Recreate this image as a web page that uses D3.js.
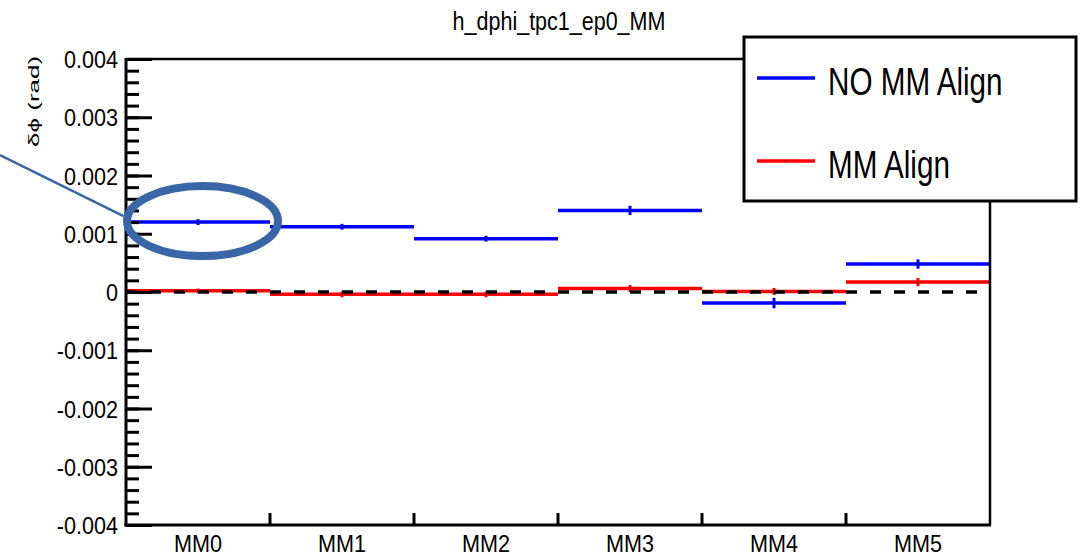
<!DOCTYPE html>
<html>
<head>
<meta charset="utf-8">
<script src="https://cdn.jsdelivr.net/npm/d3@7"></script>
<style>
  body { margin: 0; background: #fff; }
  svg { display: block; }
  text { font-family: "Liberation Sans", Arial, Helvetica, sans-serif; fill: #000; }
</style>
</head>
<body>
<svg id="chart" width="1083" height="558"></svg>
<script>
// Micromegas modules along the x axis
const modules = ["MM0", "MM1", "MM2", "MM3", "MM4", "MM5"];

// Mean delta-phi per module (rad), before alignment
const noAlign    = [0.00120, 0.00112, 0.000915, 0.00140, -0.00019, 0.00048];
const noAlignErr = [0.00005, 0.00005, 0.00005, 0.00008, 0.00009, 0.00008];

// Mean delta-phi per module (rad), after alignment
const mmAlign    = [0.00002, -0.00004, -0.00004, 0.00006, 0.00001, 0.00017];
const mmAlignErr = [0.00004, 0.00005, 0.00005, 0.00006, 0.00006, 0.00007];

// Axis ticks
const yMajorTicks = [-0.004, -0.003, -0.002, -0.001, 0, 0.001, 0.002, 0.003, 0.004];
const yMinorTicks = d3.range(-20, 21).map(i => i / 5000);
const yTickLabels = ["-0.004", "-0.003", "-0.002", "-0.001", "0", "0.001", "0.002", "0.003", "0.004"];

const series = [
  { name: "NO MM Align", values: noAlign, errors: noAlignErr, color: "#0000ff" },
  { name: "MM Align",    values: mmAlign, errors: mmAlignErr, color: "#ff0000" }
];

const svg = d3.select("#chart");
const frame = { left: 126, right: 990, top: 59, bottom: 525 };

const x = d3.scaleBand().domain(modules).range([frame.left, frame.right]).padding(0);
const y = d3.scaleLinear().domain([-0.004, 0.004]).range([frame.bottom, frame.top]);

// Squeeze text horizontally to get the narrow Helvetica look
function condense(sel, f) {
  sel.each(function () {
    const w = this.getComputedTextLength();
    this.setAttribute("textLength", w * f);
    this.setAttribute("lengthAdjust", "spacingAndGlyphs");
  });
}

// Histogram bins: horizontal bin-width bars with vertical error bars
series.forEach(s => {
  const g = svg.append("g");
  g.selectAll("line.bin").data(modules).join("line")
    .attr("class", "bin")
    .attr("x1", d => x(d)).attr("x2", d => x(d) + x.bandwidth())
    .attr("y1", (d, i) => y(s.values[i])).attr("y2", (d, i) => y(s.values[i]))
    .attr("stroke", s.color).attr("stroke-width", 3.5);
  g.selectAll("line.err").data(modules).join("line")
    .attr("class", "err")
    .attr("x1", d => x(d) + x.bandwidth() / 2).attr("x2", d => x(d) + x.bandwidth() / 2)
    .attr("y1", (d, i) => y(s.values[i] + s.errors[i]))
    .attr("y2", (d, i) => y(s.values[i] - s.errors[i]))
    .attr("stroke", s.color).attr("stroke-width", 3);
  g.selectAll("rect.mk").data(modules).join("rect")
    .attr("class", "mk")
    .attr("x", d => x(d) + x.bandwidth() / 2 - 0.5)
    .attr("y", (d, i) => y(s.values[i]) - 0.5)
    .attr("width", 1).attr("height", 1).attr("fill", "#000");
});

// Zero reference line
svg.append("line")
  .attr("x1", frame.left).attr("x2", frame.right)
  .attr("y1", y(0)).attr("y2", y(0))
  .attr("stroke", "#000").attr("stroke-width", 3.5)
  .attr("stroke-dasharray", "11,13");

// Y axis: ticks point into the frame, labels outside
const yAxisMinor = d3.axisRight(y).tickValues(yMinorTicks).tickSize(13).tickFormat("");
const yAxisMajor = d3.axisRight(y).tickValues(yMajorTicks).tickSize(26)
  .tickFormat((d, i) => yTickLabels[i]);

const gMinor = svg.append("g").attr("transform", `translate(${frame.left},0)`).call(yAxisMinor);
const gMajor = svg.append("g").attr("transform", `translate(${frame.left},0)`).call(yAxisMajor);
[gMinor, gMajor].forEach(g => {
  g.select(".domain").remove();
  g.selectAll(".tick line").attr("stroke", "#000").attr("stroke-width", 3);
});
gMajor.selectAll(".tick text")
  .attr("x", -8).attr("dy", "0.36em")
  .attr("text-anchor", "end")
  .attr("font-size", 24).style("font-size", "24px");
condense(gMajor.selectAll(".tick text"), 0.9);

// X axis: ticks at module boundaries, labels at bin centres
const xAxis = d3.axisBottom(x).tickSize(0).tickPadding(10);
const gx = svg.append("g").attr("transform", `translate(0,${frame.bottom})`).call(xAxis);
gx.select(".domain").remove();
gx.selectAll(".tick text")
  .attr("font-size", 24).style("font-size", "24px")
  .attr("dy", "0.71em");
condense(gx.selectAll(".tick text"), 0.9);

svg.append("g").selectAll("line").data(modules.slice(1)).join("line")
  .attr("x1", d => x(d)).attr("x2", d => x(d))
  .attr("y1", frame.bottom).attr("y2", frame.bottom - 12)
  .attr("stroke", "#000").attr("stroke-width", 3);

// Frame
svg.append("line").attr("x1", frame.left).attr("x2", frame.left)
  .attr("y1", frame.top - 1).attr("y2", frame.bottom + 1.5)
  .attr("stroke", "#000").attr("stroke-width", 3);
svg.append("line").attr("x1", frame.left - 1.5).attr("x2", frame.right + 1)
  .attr("y1", frame.bottom).attr("y2", frame.bottom)
  .attr("stroke", "#000").attr("stroke-width", 3);
svg.append("line").attr("x1", frame.left).attr("x2", 744)
  .attr("y1", frame.top).attr("y2", frame.top)
  .attr("stroke", "#000").attr("stroke-width", 2.5);
svg.append("line").attr("x1", frame.right).attr("x2", frame.right)
  .attr("y1", 200).attr("y2", frame.bottom)
  .attr("stroke", "#000").attr("stroke-width", 2.5);

// Title
const title = svg.append("text")
  .attr("x", 559).attr("y", 30)
  .attr("text-anchor", "middle")
  .attr("font-size", 25).style("font-size", "25px")
  .text("h_dphi_tpc1_ep0_MM");
condense(title, 0.86);

// Y axis title (stretched along its reading direction, narrow across)
svg.append("text")
  .attr("transform", "translate(39,147) rotate(-90) scale(1.3,0.75)")
  .attr("text-anchor", "start")
  .attr("font-size", 20).style("font-size", "20px")
  .text("δϕ (rad)");

// Legend
const legend = svg.append("g");
legend.append("rect")
  .attr("x", 744).attr("y", 37).attr("width", 332).attr("height", 164)
  .attr("fill", "#fff").attr("stroke", "#000").attr("stroke-width", 3);
const legendRows = [78, 161];
series.forEach((s, i) => {
  legend.append("line")
    .attr("x1", 757).attr("x2", 815)
    .attr("y1", legendRows[i]).attr("y2", legendRows[i])
    .attr("stroke", s.color).attr("stroke-width", 3.5);
  legend.append("rect")
    .attr("x", 785.5).attr("y", legendRows[i] - 0.5)
    .attr("width", 1).attr("height", 1).attr("fill", "#000");
  const t = legend.append("text")
    .attr("x", 828).attr("y", legendRows[i] + 17)
    .attr("font-size", 38).style("font-size", "38px")
    .text(s.name);
  condense(t, 0.78);
});

// Highlight around the first module
const hx = x(modules[0]) + x.bandwidth() / 2 + 4.5;
const hy = y(noAlign[0]) - 1;
const callout = svg.append("g").attr("stroke", "#3866a6").attr("fill", "none");
callout.append("line")
  .attr("x1", 0).attr("y1", 155)
  .attr("x2", hx - 79).attr("y2", hy - 5)
  .attr("stroke-width", 2.5);
callout.append("ellipse")
  .attr("cx", hx).attr("cy", hy)
  .attr("rx", 75.5).attr("ry", 35)
  .attr("stroke-width", 8);
</script>
</body>
</html>
